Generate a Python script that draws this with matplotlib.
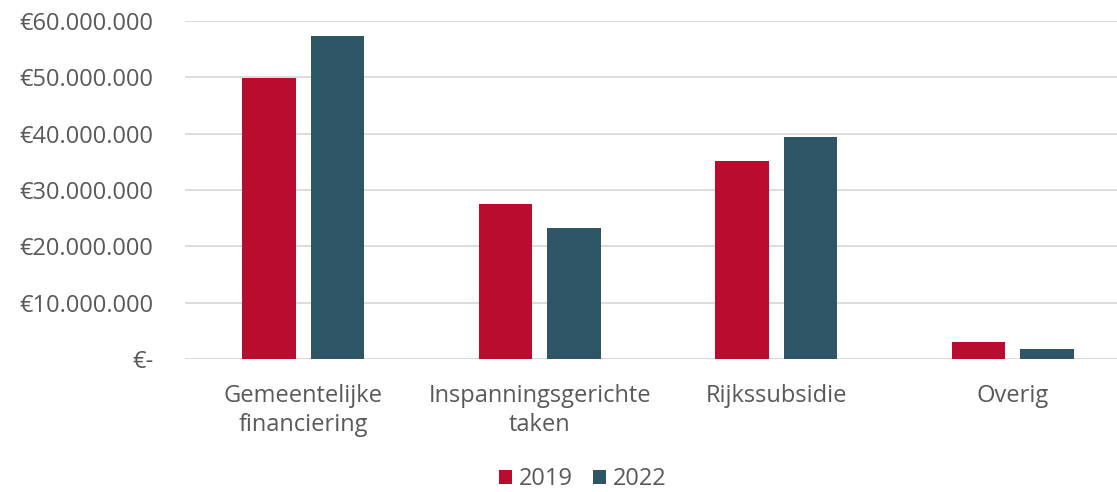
import numpy as np
from matplotlib import pyplot as plt
from matplotlib.ticker import FuncFormatter

plt.rcParams.update({
    "font.family": ["Open Sans", "DejaVu Sans"],
    "font.size": 17,
    "text.color": "#595959",
    "xtick.color": "#595959",
    "ytick.color": "#595959",
})

categories = ["Gemeentelijke\nfinanciering", "Inspanningsgerichte\ntaken",
              "Rijkssubsidie", "Overig"]
years = ["2019", "2022"]
values_2019 = [49.8e6, 27.6e6, 35.1e6, 3.0e6]
values_2022 = [57.3e6, 23.2e6, 39.4e6, 1.7e6]
colors = ["#BA0C2F", "#2E5565"]

fig = plt.figure(figsize=(11.17, 4.92), dpi=100)
# plot area runs a bit past the right edge of the picture
ax = fig.add_axes([185 / 1117, 133 / 492, 946 / 1117, 338 / 492])

x = np.arange(len(categories))
width = 0.225
gap = 0.064
off = (width + gap) / 2
ax.bar(x - off, values_2019, width, color=colors[0], label=years[0], zorder=3)
ax.bar(x + off, values_2022, width, color=colors[1], label=years[1], zorder=3)

ax.set_xlim(-0.5, len(categories) - 0.5)
ax.set_ylim(0, 60e6)
ax.set_yticks(np.arange(0, 60e6 + 1, 10e6))


def euro(v, pos):
    if v == 0:
        return "€-"
    return "€" + f"{int(v):,}".replace(",", ".")


ax.yaxis.set_major_formatter(FuncFormatter(euro))
ax.set_xticks(x)
ax.set_xticklabels(categories, linespacing=1.3)
ax.tick_params(axis="both", length=0)
ax.tick_params(axis="y", pad=23)
ax.tick_params(axis="x", pad=18)
ax.grid(axis="y", color="#D9D9D9", linewidth=1.3, zorder=0)
for s in ax.spines.values():
    s.set_visible(False)

ax.legend(loc="center", bbox_to_anchor=(583 / 1117, 13 / 492),
          bbox_transform=fig.transFigure, ncol=2, frameon=False,
          handlelength=0.55, handleheight=0.55, handletextpad=0.3,
          columnspacing=0.85, borderpad=0.1)

fig.savefig("out.png", dpi=100)
